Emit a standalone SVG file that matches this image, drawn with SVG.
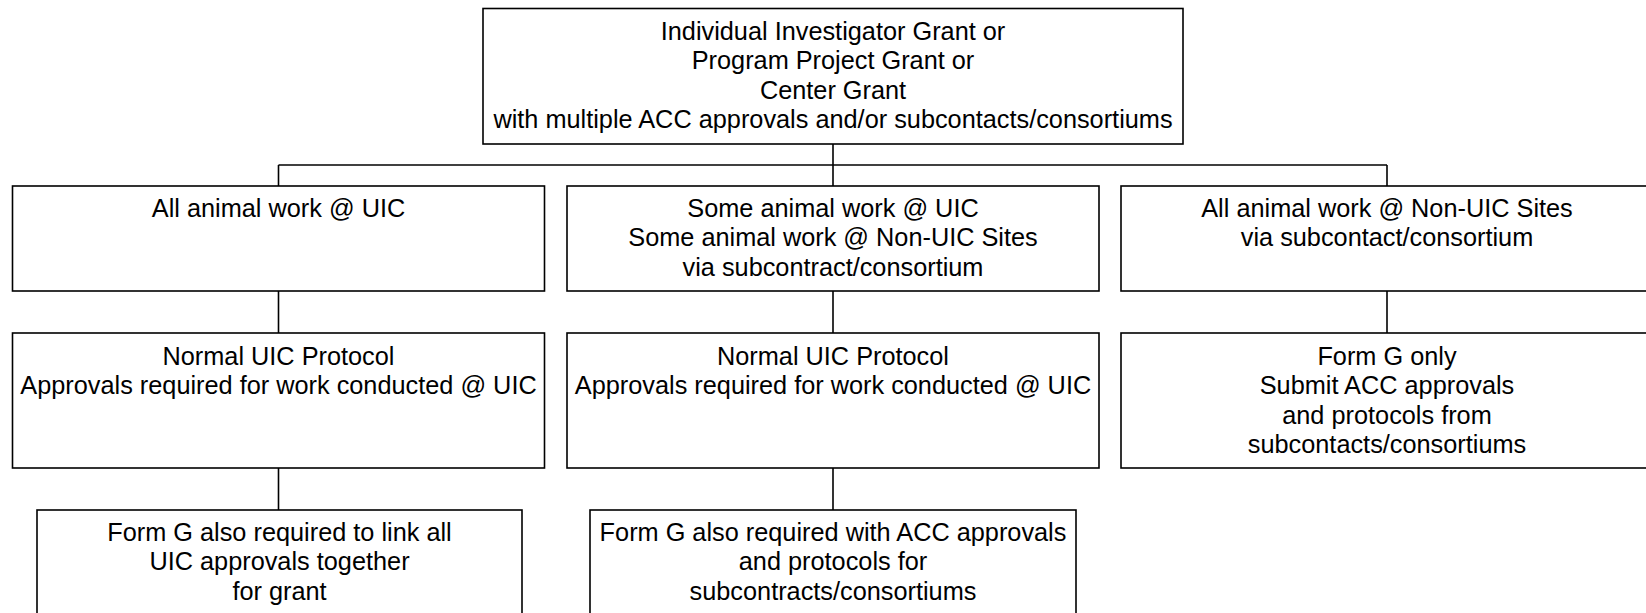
<svg xmlns="http://www.w3.org/2000/svg" width="1646" height="613" viewBox="0 0 1646 613">
<style>
rect.box{fill:#fff;stroke:#000;stroke-width:1.6}
.conn line{stroke:#000;stroke-width:1.6}
text{font-family:"Liberation Sans",Arial,sans-serif;font-size:25.3px;fill:#000;text-anchor:middle}
</style>
<rect width="1646" height="613" fill="#fff"/>
<g class="conn" id="connectors">
<line x1="833" y1="144" x2="833" y2="165"/>
<line x1="278.5" y1="165" x2="1387" y2="165"/>
<line x1="278.5" y1="165" x2="278.5" y2="186"/>
<line x1="833" y1="165" x2="833" y2="186"/>
<line x1="1387" y1="165" x2="1387" y2="186"/>
<line x1="278.5" y1="291" x2="278.5" y2="333"/>
<line x1="833" y1="291" x2="833" y2="333"/>
<line x1="1387" y1="291" x2="1387" y2="333"/>
<line x1="278.5" y1="468" x2="278.5" y2="510"/>
<line x1="833" y1="468" x2="833" y2="510"/>
</g>
<g id="top">
<rect class="box" x="483" y="8.5" width="700" height="135.5"/>
<text x="833" y="40">Individual Investigator Grant or</text>
<text x="833" y="69.4">Program Project Grant or</text>
<text x="833" y="98.8">Center Grant</text>
<text x="833" y="128.2">with multiple ACC approvals and/or subcontacts/consortiums</text>
</g>
<g id="a1">
<rect class="box" x="12.5" y="186" width="532" height="105"/>
<text x="278.5" y="217">All animal work @ UIC</text>
</g>
<g id="b1">
<rect class="box" x="567" y="186" width="532" height="105"/>
<text x="833" y="217">Some animal work @ UIC</text>
<text x="833" y="246.4">Some animal work @ Non-UIC Sites</text>
<text x="833" y="275.8">via subcontract/consortium</text>
</g>
<g id="c1">
<rect class="box" x="1121" y="186" width="532" height="105"/>
<text x="1387" y="217">All animal work @ Non-UIC Sites</text>
<text x="1387" y="246.4">via subcontact/consortium</text>
</g>
<g id="a2">
<rect class="box" x="12.5" y="333" width="532" height="135"/>
<text x="278.5" y="365">Normal UIC Protocol</text>
<text x="278.5" y="394.4">Approvals required for work conducted @ UIC</text>
</g>
<g id="b2">
<rect class="box" x="567" y="333" width="532" height="135"/>
<text x="833" y="365">Normal UIC Protocol</text>
<text x="833" y="394.4">Approvals required for work conducted @ UIC</text>
</g>
<g id="c2">
<rect class="box" x="1121" y="333" width="532" height="135"/>
<text x="1387" y="365">Form G only</text>
<text x="1387" y="394.4">Submit ACC approvals</text>
<text x="1387" y="423.8">and protocols from</text>
<text x="1387" y="453.2">subcontacts/consortiums</text>
</g>
<g id="a3">
<rect class="box" x="37" y="510" width="485" height="135"/>
<text x="279.5" y="541">Form G also required to link all</text>
<text x="279.5" y="570.4">UIC approvals together</text>
<text x="279.5" y="599.8">for grant</text>
</g>
<g id="b3">
<rect class="box" x="590" y="510" width="486" height="135"/>
<text x="833" y="541">Form G also required with ACC approvals</text>
<text x="833" y="570.4">and protocols for</text>
<text x="833" y="599.8">subcontracts/consortiums</text>
</g>
</svg>
